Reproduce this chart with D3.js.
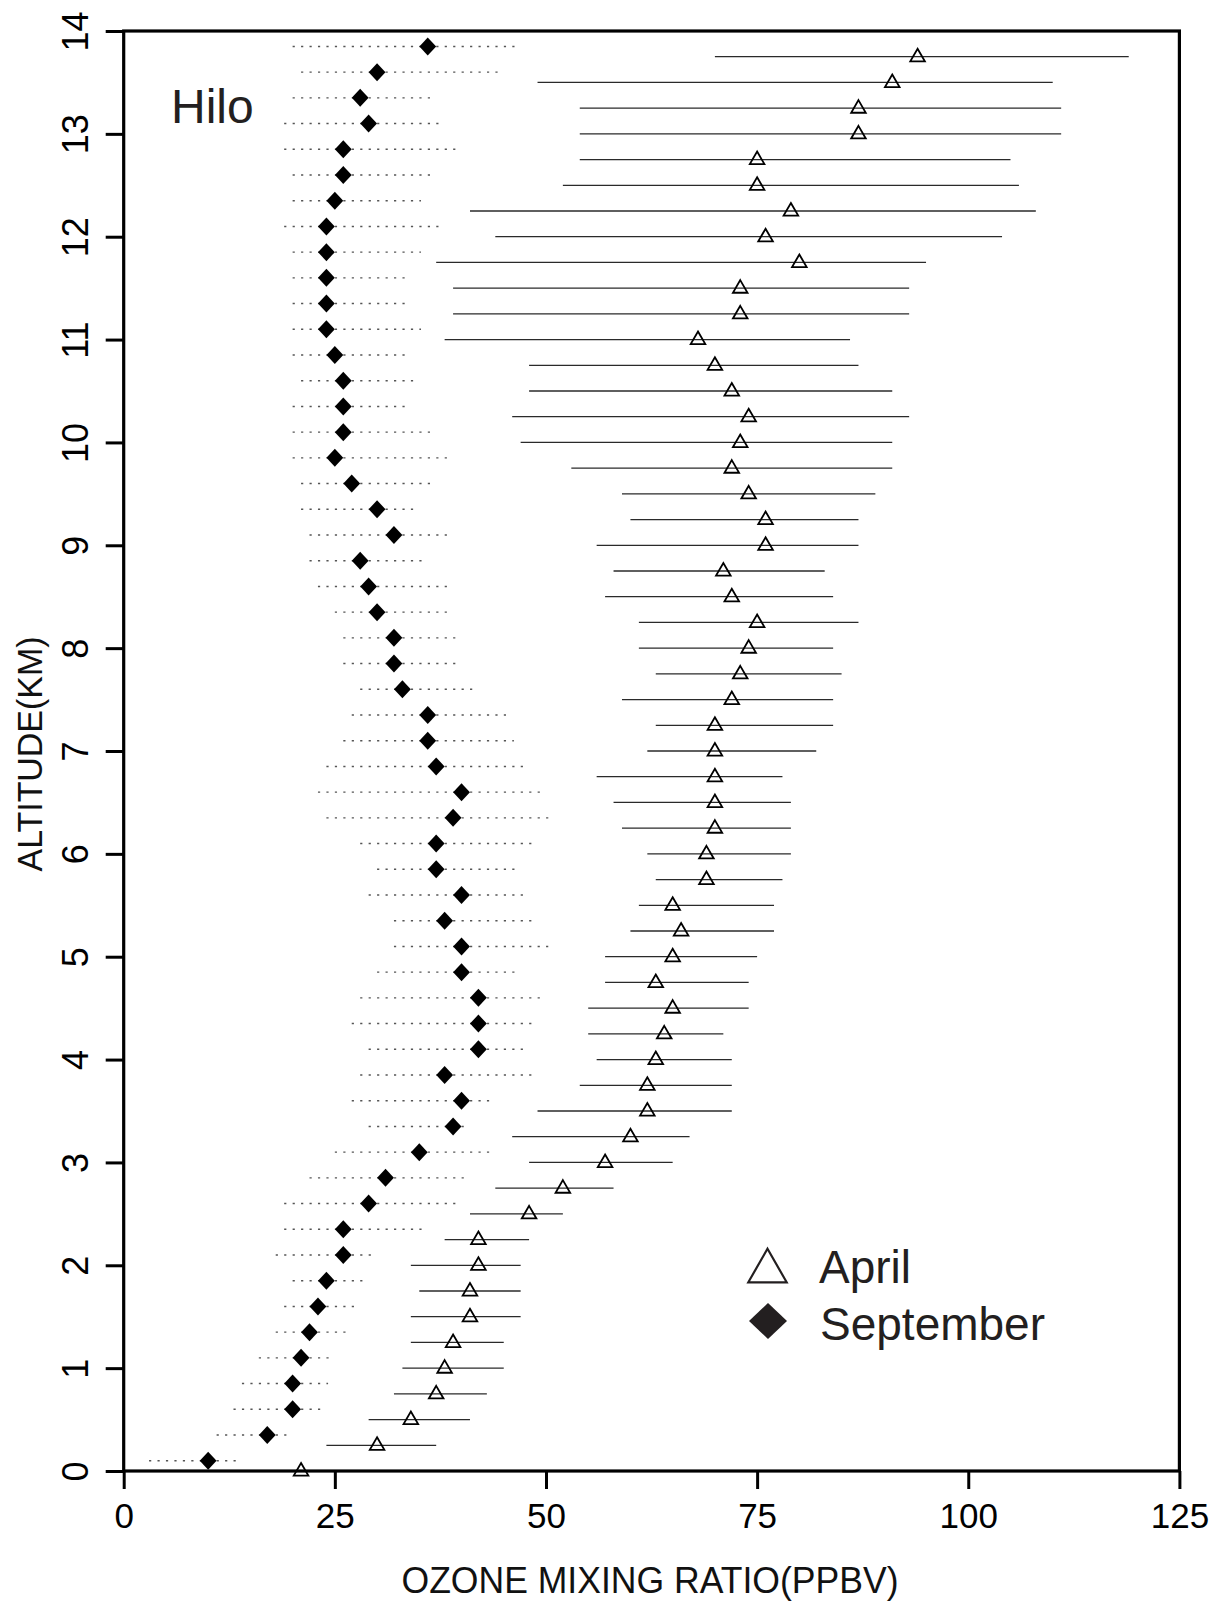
<!DOCTYPE html>
<html>
<head>
<meta charset="utf-8">
<script src="https://cdn.jsdelivr.net/npm/d3@7"></script>
<style>
  html, body { margin: 0; padding: 0; background: #fff; }
  svg { display: block; font-family: "Liberation Sans", Arial, sans-serif; }
</style>
</head>
<body>
<svg id="chart" width="1223" height="1602"></svg>
<script>
// Ozone profiles over Hilo: April (mean with range bars) and September (mean with dotted range)

const aprilAlt = [0, 0.25, 0.5, 0.75, 1, 1.25, 1.5, 1.75, 2, 2.25,
  2.5, 2.75, 3, 3.25, 3.5, 3.75, 4, 4.25, 4.5, 4.75,
  5, 5.25, 5.5, 5.75, 6, 6.25, 6.5, 6.75, 7, 7.25,
  7.5, 7.75, 8, 8.25, 8.5, 8.75, 9, 9.25, 9.5, 9.75,
  10, 10.25, 10.5, 10.75, 11, 11.25, 11.5, 11.75, 12, 12.25,
  12.5, 12.75, 13, 13.25, 13.5, 13.75];
const aprilMean = [21, 30, 34, 37, 38, 39, 41, 41, 42, 42,
  48, 52, 57, 60, 62, 62, 63, 64, 65, 63,
  65, 66, 65, 69, 69, 70, 70, 70, 70, 70,
  72, 73, 74, 75, 72, 71, 76, 76, 74, 72,
  73, 74, 72, 70, 68, 73, 73, 80, 76, 79,
  75, 75, 87, 87, 91, 94];
const aprilLow = [21, 24, 29, 32, 33, 34, 34, 35, 34, 38,
  41, 44, 48, 46, 49, 54, 56, 55, 55, 57,
  57, 60, 61, 63, 62, 59, 58, 56, 62, 63,
  59, 63, 61, 61, 57, 58, 56, 60, 59, 53,
  47, 46, 48, 48, 38, 39, 39, 37, 44, 41,
  52, 54, 54, 54, 49, 70];
const aprilHigh = [21, 37, 41, 43, 45, 45, 47, 47, 47, 48,
  52, 58, 65, 67, 72, 72, 72, 71, 74, 74,
  75, 77, 77, 78, 79, 79, 79, 78, 82, 84,
  84, 85, 84, 87, 84, 83, 87, 87, 89, 91,
  91, 93, 91, 87, 86, 93, 93, 95, 104, 108,
  106, 105, 111, 111, 110, 119];

const sepAlt = [0.1, 0.35, 0.6, 0.85, 1.1, 1.35, 1.6, 1.85, 2.1, 2.35,
  2.6, 2.85, 3.1, 3.35, 3.6, 3.85, 4.1, 4.35, 4.6, 4.85,
  5.1, 5.35, 5.6, 5.85, 6.1, 6.35, 6.6, 6.85, 7.1, 7.35,
  7.6, 7.85, 8.1, 8.35, 8.6, 8.85, 9.1, 9.35, 9.6, 9.85,
  10.1, 10.35, 10.6, 10.85, 11.1, 11.35, 11.6, 11.85, 12.1, 12.35,
  12.6, 12.85, 13.1, 13.35, 13.6, 13.85];
const sepMean = [10, 17, 20, 20, 21, 22, 23, 24, 26, 26,
  29, 31, 35, 39, 40, 38, 42, 42, 42, 40,
  40, 38, 40, 37, 37, 39, 40, 37, 36, 36,
  33, 32, 32, 30, 29, 28, 32, 30, 27, 25,
  26, 26, 26, 25, 24, 24, 24, 24, 24, 25,
  26, 26, 29, 28, 30, 36];
const sepLow = [3, 11, 13, 14, 16, 18, 19, 20, 18, 19,
  19, 22, 25, 29, 27, 28, 29, 27, 28, 30,
  32, 32, 29, 30, 28, 24, 23, 24, 26, 27,
  28, 26, 26, 25, 23, 22, 22, 21, 21, 20,
  20, 20, 21, 20, 20, 20, 20, 20, 19, 20,
  20, 19, 19, 20, 21, 20];
const sepHigh = [13.3, 19.5, 23.3, 24.2, 24.7, 26.7, 27.6, 28.6, 30, 36,
  39.3, 40.6, 43.7, 41, 44, 48.4, 47.7, 49, 50, 47,
  51, 49, 47.7, 47, 48.4, 51, 50, 47.7, 46.2, 45.6,
  41.6, 39.6, 39.6, 38.6, 38.3, 35.6, 39, 34.6, 36.3, 38.6,
  36.9, 33.6, 34.6, 33.6, 35.2, 33.6, 33.6, 35.2, 37.7, 35.2,
  36.9, 39.3, 37.7, 36.9, 44.6, 47];

const xTicks = [0, 25, 50, 75, 100, 125];
const yTicks = [0, 1, 2, 3, 4, 5, 6, 7, 8, 9, 10, 11, 12, 13, 14];
const seriesNames = ["April", "September"];

const april = aprilAlt.map((a, i) => ({ alt: a, mean: aprilMean[i], lo: aprilLow[i], hi: aprilHigh[i] }));
const sept = sepAlt.map((a, i) => ({ alt: a, mean: sepMean[i], lo: sepLow[i], hi: sepHigh[i] }));

const svg = d3.select("#chart");
const W = 1223, H = 1602;
const margin = { left: 123.7, right: 43.6, top: 31, bottom: 131 };

svg.append("rect").attr("width", W).attr("height", H).attr("fill", "#fff");

const x = d3.scaleLinear().domain([0, 125]).range([margin.left, W - margin.right]);
const y = d3.scaleLinear().domain([0, 14]).range([H - margin.bottom, margin.top]);

const triPath = "M0,-8 L7.3,4.6 L-7.3,4.6 Z";
const diamondPath = "M0,-9 L8.4,0 L0,9 L-8.4,0 Z";

// April range bars
svg.append("g").selectAll("line").data(april.filter(d => d.hi > d.lo)).join("line")
  .attr("x1", d => x(d.lo)).attr("x2", d => x(d.hi))
  .attr("y1", d => y(d.alt)).attr("y2", d => y(d.alt))
  .attr("stroke", "#2a2a2a").attr("stroke-width", 1.3);

// September dotted ranges
svg.append("g").selectAll("line").data(sept).join("line")
  .attr("x1", d => x(d.lo)).attr("x2", d => x(d.hi))
  .attr("y1", d => y(d.alt)).attr("y2", d => y(d.alt))
  .attr("stroke", "#555").attr("stroke-width", 1.4)
  .attr("stroke-dasharray", "2.2,6.25");

// April means
svg.append("g").selectAll("path").data(april).join("path")
  .attr("d", triPath)
  .attr("transform", d => `translate(${x(d.mean)},${y(d.alt)})`)
  .attr("fill", "none").attr("stroke", "#000").attr("stroke-width", 1.8)
  .attr("stroke-linejoin", "miter");

// September means
svg.append("g").selectAll("path").data(sept).join("path")
  .attr("d", diamondPath)
  .attr("transform", d => `translate(${x(d.mean)},${y(d.alt)})`)
  .attr("fill", "#000");

// Frame
const frame = svg.append("g").attr("fill", "none").attr("stroke", "#000");
frame.append("rect")
  .attr("x", x(0)).attr("y", y(14))
  .attr("width", x(125) - x(0)).attr("height", y(0) - y(14))
  .attr("stroke-width", 3.2);

// X axis
const xAxis = svg.append("g")
  .attr("transform", `translate(0,${y(0)})`)
  .call(d3.axisBottom(x).tickValues(xTicks).tickSize(18).tickPadding(0).tickFormat(d3.format("d")));
xAxis.select(".domain").remove();
xAxis.selectAll(".tick line").attr("stroke", "#000").attr("stroke-width", 3);
xAxis.selectAll(".tick text")
  .attr("y", 57).attr("dy", null)
  .attr("font-size", 35).attr("fill", "#000")
  .attr("font-family", "'Liberation Sans', Arial, sans-serif");

// Y axis
const yAxis = svg.append("g")
  .attr("transform", `translate(${x(0)},0)`)
  .call(d3.axisLeft(y).tickValues(yTicks).tickSize(18).tickFormat(d3.format("d")));
yAxis.select(".domain").remove();
yAxis.selectAll(".tick line").attr("stroke", "#000").attr("stroke-width", 3);
yAxis.selectAll(".tick text")
  .attr("x", null).attr("dy", null)
  .attr("transform", "translate(-35.5,0) rotate(-90)")
  .attr("text-anchor", "middle")
  .attr("font-size", 36).attr("fill", "#000")
  .attr("font-family", "'Liberation Sans', Arial, sans-serif");

// Axis titles
svg.append("text")
  .attr("x", 650).attr("y", 1592.5)
  .attr("text-anchor", "middle")
  .attr("font-size", 36).attr("fill", "#111")
  .attr("textLength", 497).attr("lengthAdjust", "spacingAndGlyphs")
  .text("OZONE MIXING RATIO(PPBV)");

svg.append("text")
  .attr("transform", "translate(42,754) rotate(-90)")
  .attr("text-anchor", "middle")
  .attr("font-size", 35).attr("fill", "#111")
  .attr("textLength", 235).attr("lengthAdjust", "spacingAndGlyphs")
  .text("ALTITUDE(KM)");

// Station label
svg.append("text")
  .attr("x", 171).attr("y", 123)
  .attr("font-size", 48).attr("fill", "#231f20")
  .text("Hilo");

// Legend
const legend = svg.append("g");
legend.append("path")
  .attr("d", "M0,-22.2 L19.2,11.3 L-19.2,11.3 Z")
  .attr("transform", "translate(767.5,1271)")
  .attr("fill", "none").attr("stroke", "#231f20").attr("stroke-width", 2.2);
legend.append("path")
  .attr("d", "M0,-18 L19,0 L0,18 L-19,0 Z")
  .attr("transform", "translate(768,1321)")
  .attr("fill", "#231f20");
legend.append("text")
  .attr("x", 819).attr("y", 1283)
  .attr("font-size", 46).attr("fill", "#231f20")
  .text(seriesNames[0]);
legend.append("text")
  .attr("x", 820).attr("y", 1340)
  .attr("font-size", 46).attr("fill", "#231f20")
  .text(seriesNames[1]);
</script>
</body>
</html>
